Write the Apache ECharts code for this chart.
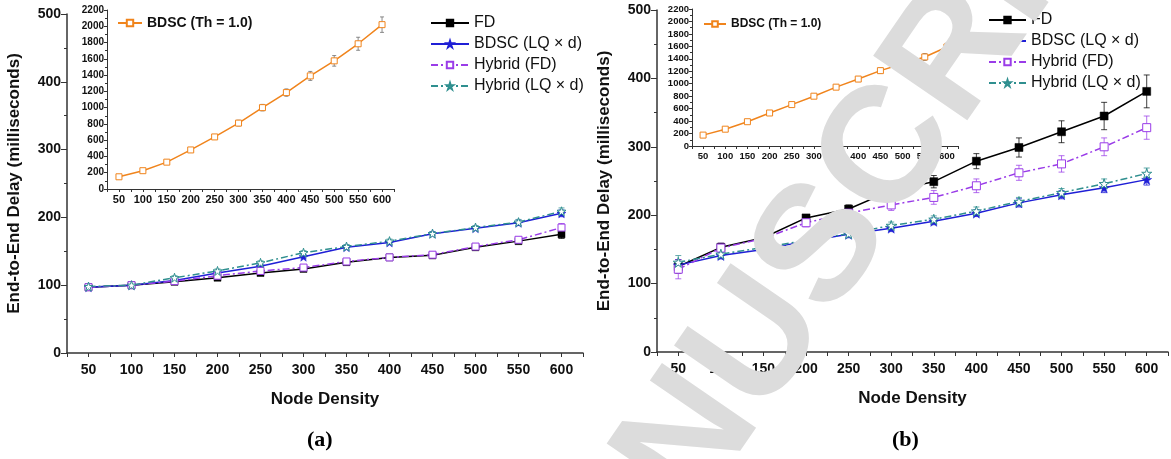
<!DOCTYPE html>
<html>
<head>
<meta charset="utf-8">
<script src="https://cdn.jsdelivr.net/npm/echarts@6/dist/echarts.min.js"></script>
<style>
  html, body { margin: 0; padding: 0; background: #fff; }
  #chart { width: 1171px; height: 459px; }
</style>
</head>
<body>
<div id="chart"></div>
<script>
// Node densities (x values shared by every series)
const nodeDensity = [50, 100, 150, 200, 250, 300, 350, 400, 450, 500, 550, 600];

// Panel (a): end-to-end delay in milliseconds
const fdA      = [97, 100, 105, 111, 118, 124, 134, 141, 144, 156, 165, 175];
const bdscA    = [97, 100, 107, 118, 128, 142, 156, 163, 176, 184, 192, 206];
const hybFdA   = [97, 100, 106, 114, 121, 126, 135, 141, 145, 157, 167, 185];
const hybLqA   = [98, 100, 111, 121, 133, 148, 157, 165, 176, 185, 193, 209];
const fdErrA    = [3, 2, 3, 3, 3, 3, 3, 3, 3, 4, 4, 6];
const bdscErrA  = [3, 2, 3, 3, 3, 3, 3, 3, 3, 3, 4, 5];
const hybFdErrA = [3, 2, 3, 3, 3, 3, 3, 3, 3, 4, 4, 6];
const hybLqErrA = [3, 2, 3, 3, 3, 3, 3, 3, 3, 3, 4, 5];
// Panel (a) inset: BDSC with threshold 1.0
const thA    = [150, 225, 330, 480, 640, 810, 1000, 1185, 1390, 1575, 1785, 2020];
const thErrA = [20, 25, 25, 30, 30, 35, 40, 45, 55, 65, 80, 95];

// Panel (b): end-to-end delay in milliseconds
const fdB      = [125, 153, 167, 196, 209, 236, 249, 279, 299, 322, 345, 381];
const bdscB    = [127, 141, 150, 162, 172, 181, 191, 203, 218, 230, 240, 252];
const hybFdB   = [121, 152, 166, 189, 203, 215, 226, 243, 262, 275, 300, 328];
const hybLqB   = [131, 143, 153, 163, 173, 185, 194, 206, 220, 233, 246, 261];
const fdErrB    = [10, 6, 5, 5, 6, 7, 9, 11, 14, 16, 20, 24];
const bdscErrB  = [8, 5, 5, 5, 5, 5, 5, 5, 6, 6, 7, 8];
const hybFdErrB = [14, 7, 6, 6, 6, 8, 10, 10, 11, 12, 13, 17];
const hybLqErrB = [10, 5, 5, 5, 5, 5, 5, 6, 6, 6, 7, 8];
// Panel (b) inset: BDSC with threshold 1.0
const thB    = [175, 270, 390, 530, 665, 800, 945, 1075, 1210, 1320, 1430, 1590];
const thErrB = [20, 25, 25, 30, 30, 35, 35, 40, 45, 50, 55, 60];

// Axis label and series names
const seriesNames = ['FD', 'BDSC (LQ \u00d7 d)', 'Hybrid (FD)', 'Hybrid (LQ \u00d7 d)'];
const insetName = 'BDSC (Th = 1.0)';
const xTitle = 'Node Density';
const yTitle = 'End-to-End Delay (milliseconds)';
const panelLabels = ['(a)', '(b)'];
const stampText = 'MANUSCRIPT';

const COLORS = {
  fd: '#000000',
  bdsc: '#1f1fd6',
  hybFd: '#9a3ce8',
  hybLq: '#2f8f8f',
  th: '#f0841c'
};
const FONT = '"Liberation Sans", Arial, sans-serif';
const STAR = 'path://M50,0 L61.2,34.5 L97.6,34.5 L68.2,55.9 L79.4,90.5 L50,69.1 L20.6,90.5 L31.8,55.9 L2.4,34.5 L38.8,34.5 Z';
const DASHDOT = [7, 3, 2, 3];

function pairs(vals) { return nodeDensity.map((x, i) => [x, vals[i]]); }
function errTriples(vals, errs) { return nodeDensity.map((x, i) => [x, vals[i] - errs[i], vals[i] + errs[i]]); }

function lineSeries(name, vals, grid, style) {
  return {
    type: 'line', name: name, data: pairs(vals),
    xAxisIndex: grid, yAxisIndex: grid,
    symbol: style.symbol, symbolSize: style.size,
    lineStyle: { color: style.color, width: 1.5, type: style.dash || 'solid' },
    itemStyle: style.hollow
      ? { color: '#fff', borderColor: style.color, borderWidth: 1 }
      : { color: style.color, borderColor: style.color, borderWidth: 0.5 },
    z: 3, animation: false
  };
}

function errSeries(vals, errs, grid, color, cap) {
  return {
    type: 'custom', xAxisIndex: grid, yAxisIndex: grid,
    data: errTriples(vals, errs),
    encode: { x: 0, y: [1, 2] },
    z: 2, animation: false, silent: true,
    renderItem: function (params, api) {
      const x = api.value(0);
      const top = api.coord([x, api.value(2)]);
      const bot = api.coord([x, api.value(1)]);
      const st = { stroke: color, lineWidth: 1, opacity: 0.75 };
      return {
        type: 'group', children: [
          { type: 'line', shape: { x1: top[0], y1: top[1], x2: bot[0], y2: bot[1] }, style: st },
          { type: 'line', shape: { x1: top[0] - cap, y1: top[1], x2: top[0] + cap, y2: top[1] }, style: st },
          { type: 'line', shape: { x1: bot[0] - cap, y1: bot[1], x2: bot[0] + cap, y2: bot[1] }, style: st }
        ]
      };
    }
  };
}

function xAxisCfg(grid, fontSize, showName) {
  return {
    type: 'value', gridIndex: grid, min: 25, max: 625, interval: 25,
    axisLine: { lineStyle: { color: '#333', width: grid % 2 === 0 ? 1.5 : 1 } },
    axisTick: { length: grid % 2 === 0 ? 4 : 3, lineStyle: { color: '#333', width: 1 } },
    axisLabel: {
      color: '#111', fontFamily: FONT, fontWeight: 'bold', fontSize: fontSize,
      margin: grid % 2 === 0 ? 10 : 5,
      formatter: v => (v % 50 === 0 ? String(v) : '')
    },
    splitLine: { show: false },
    name: showName ? xTitle : '', nameLocation: 'middle', nameGap: 38,
    nameTextStyle: { color: '#111', fontFamily: FONT, fontWeight: 'bold', fontSize: 17 }
  };
}

function yAxisCfg(grid, max, interval, fontSize, showName, minorLen, majorLen) {
  return {
    type: 'value', gridIndex: grid, min: 0, max: max, interval: interval,
    axisLine: { show: true, lineStyle: { color: '#333', width: grid % 2 === 0 ? 1.5 : 1 } },
    axisTick: { show: true, length: majorLen, lineStyle: { color: '#333', width: 1 } },
    minorTick: { show: true, splitNumber: 2, length: minorLen, lineStyle: { color: '#333', width: 1 } },
    axisLabel: {
      color: '#111', fontFamily: FONT, fontWeight: 'bold', fontSize: fontSize,
      margin: grid % 2 === 0 ? 6 : 3,
      formatter: v => String(v)
    },
    splitLine: { show: false },
    name: showName ? yTitle : '', nameLocation: 'middle', nameGap: 44, nameRotate: 90,
    nameTextStyle: { color: '#111', fontFamily: FONT, fontWeight: 'bold', fontSize: 17 }
  };
}

function panelSeries(mainGrid, insetGrid, d, symA) {
  const s = [];
  s.push(errSeries(d.fd, d.fdErr, mainGrid, COLORS.fd, 3));
  s.push(errSeries(d.bdsc, d.bdscErr, mainGrid, COLORS.bdsc, 3));
  s.push(errSeries(d.hybFd, d.hybFdErr, mainGrid, COLORS.hybFd, 3));
  s.push(errSeries(d.hybLq, d.hybLqErr, mainGrid, COLORS.hybLq, 3));
  s.push(lineSeries(seriesNames[0], d.fd, mainGrid, { color: COLORS.fd, symbol: 'rect', size: symA }));
  s.push(lineSeries(seriesNames[1], d.bdsc, mainGrid, { color: COLORS.bdsc, symbol: STAR, size: symA + 2 }));
  s.push(lineSeries(seriesNames[2], d.hybFd, mainGrid, { color: COLORS.hybFd, symbol: 'rect', size: symA, hollow: true, dash: DASHDOT }));
  s.push(lineSeries(seriesNames[3], d.hybLq, mainGrid, { color: COLORS.hybLq, symbol: STAR, size: symA + 2, hollow: true, dash: DASHDOT }));
  s.push(errSeries(d.th, d.thErr, insetGrid, '#666', 2));
  s.push(lineSeries(insetName, d.th, insetGrid, { color: COLORS.th, symbol: 'rect', size: 6, hollow: true }));
  return s;
}

const chart = echarts.init(document.getElementById('chart'), null, { renderer: 'canvas' });

const grids = [
  { left: 67, top: 14, width: 516, height: 339 },   // main (a)
  { left: 107, top: 10, width: 287, height: 179 },  // inset (a)
  { left: 657, top: 10, width: 513, height: 342 },  // main (b)
  { left: 692, top: 9, width: 266, height: 137 }    // inset (b)
];

const legendText = { fontFamily: FONT, fontSize: 16, color: '#111' };

const option = {
  backgroundColor: '#fff',
  animation: false,
  grid: grids.map(g => Object.assign({ containLabel: false, show: false }, g)),
  xAxis: [
    xAxisCfg(0, 14, true),
    xAxisCfg(1, 11, false),
    xAxisCfg(2, 14, true),
    xAxisCfg(3, 9.5, false)
  ],
  yAxis: [
    yAxisCfg(0, 500, 100, 14, true, 3, 6),
    yAxisCfg(1, 2200, 200, 10, false, 2, 3),
    yAxisCfg(2, 500, 100, 14, true, 3, 6),
    yAxisCfg(3, 2200, 200, 9.5, false, 2, 3)
  ],
  legend: [
    { data: seriesNames, orient: 'vertical', left: 425, top: 10, itemWidth: 38, itemHeight: 8, itemGap: 5, textStyle: legendText },
    { data: seriesNames, orient: 'vertical', left: 983, top: 7, itemWidth: 37, itemHeight: 8, itemGap: 5, textStyle: legendText },
    { data: [insetName], left: 112, top: 11, itemWidth: 24, itemHeight: 8, textStyle: { fontFamily: FONT, fontSize: 14, fontWeight: 'bold', color: '#111' } },
    { data: [insetName], left: 698, top: 13, itemWidth: 22, itemHeight: 7, textStyle: { fontFamily: FONT, fontSize: 12, fontWeight: 'bold', color: '#111' } }
  ],
  series: [].concat(
    panelSeries(0, 1, {
      fd: fdA, bdsc: bdscA, hybFd: hybFdA, hybLq: hybLqA,
      fdErr: fdErrA, bdscErr: bdscErrA, hybFdErr: hybFdErrA, hybLqErr: hybLqErrA,
      th: thA, thErr: thErrA
    }, 7),
    panelSeries(2, 3, {
      fd: fdB, bdsc: bdscB, hybFd: hybFdB, hybLq: hybLqB,
      fdErr: fdErrB, bdscErr: bdscErrB, hybFdErr: hybFdErrB, hybLqErr: hybLqErrB,
      th: thB, thErr: thErrB
    }, 8)
  ),
  graphic: [
    { type: 'text', left: 307, top: 429, style: { text: panelLabels[0], font: 'bold 22px "Liberation Serif", "Times New Roman", serif', fill: '#000' } },
    { type: 'text', left: 892, top: 429, style: { text: panelLabels[1], font: 'bold 22px "Liberation Serif", "Times New Roman", serif', fill: '#000' } },
    // light grey stamp lettering laid over panel (b)
    { type: 'text', x: 824, y: 248, rotation: 55.5 * Math.PI / 180, z: 100,
      style: { text: stampText, font: 'bold 166px "Liberation Sans", Arial, sans-serif', fill: '#dcdcdc', textAlign: 'center', textVerticalAlign: 'middle' } }
  ]
};

chart.setOption(option);
</script>
</body>
</html>
